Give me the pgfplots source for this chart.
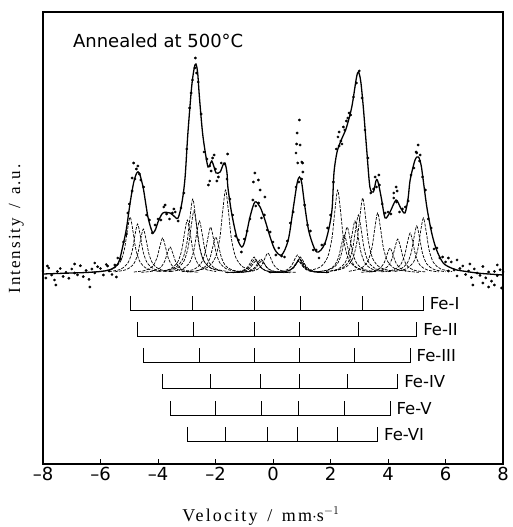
\documentclass[border=0pt]{standalone}
\usepackage{fontspec}
\setmainfont{Liberation Serif}
\newfontfamily\sansf{DejaVu Sans}
\newfontfamily\labf[LetterSpace=12]{Liberation Serif}
\usepackage{pgfplots}
\pgfplotsset{compat=1.18}

\pgfplotsset{
  sub/.style={black, line width=0.7pt, dash pattern=on 3pt off 1.3pt, smooth},
  stick/.style={black, line width=0.9pt, unbounded coords=jump},
}
\newcommand{\felab}[3]{\node[anchor=base west, inner sep=0pt, font=\sansf\fontsize{16.5}{18}\selectfont] at (axis cs:#1,#2) {#3};}

\begin{document}
\begin{tikzpicture}
\useasboundingbox (0pt,0pt) rectangle (512pt,527pt);
\begin{axis}[at={(43pt,63pt)}, anchor=south west, scale only axis,
  width=460pt, height=452pt,
  xmin=-8, xmax=8, ymin=-191, ymax=261,
  axis line style={line width=1.1pt},
  xtick={-8,-6,...,8}, xticklabels={–8,–6,–4,–2,0,2,4,6,8},
  ytick=\empty, tick align=inside, xtick pos=bottom,
  major tick length=5pt, tick style={line width=0.8pt, black},
  xticklabel style={font=\sansf\fontsize{18}{20}\selectfont},
  xlabel={\labf\fontsize{18}{20}\selectfont Velocity \,/\, mm$\cdot$s$^{-1}$},
  xlabel style={at={(axis description cs:0.474,0)}, anchor=base, yshift=-57pt},
  ylabel={\labf\fontsize{17}{19}\selectfont Intensity \,/\, a.u.},
  ylabel style={at={(axis description cs:-0.058,0.52)}, anchor=center},
]
% Fe-I
\addplot[sub] coordinates {(-5.97,1.6) (-5.57,4.1) (-5.32,10.7) (-5.17,23.5) (-5.07,41.6) (-4.97,56) (-4.87,41.6) (-4.77,23.5) (-4.62,10.7) (-4.37,4.1) (-3.97,1.6)};
\addplot[sub] coordinates {(-3.79,2.1) (-3.39,5.5) (-3.14,14.1) (-2.99,31) (-2.89,55) (-2.79,74) (-2.69,55) (-2.59,31) (-2.44,14.1) (-2.19,5.5) (-1.79,2.1)};
\addplot[sub] coordinates {(-1.66,0.4) (-1.26,1.2) (-1.01,3.1) (-0.86,6.7) (-0.76,11.9) (-0.66,16) (-0.56,11.9) (-0.46,6.7) (-0.31,3.1) (-0.06,1.2) (0.34,0.4)};
\addplot[sub] coordinates {(-0.05,0.4) (0.35,1.2) (0.6,3.1) (0.75,6.7) (0.85,11.9) (0.95,16) (1.05,11.9) (1.15,6.7) (1.3,3.1) (1.55,1.2) (1.95,0.4)};
\addplot[sub] coordinates {(2.12,2.1) (2.52,5.6) (2.77,14.3) (2.92,31.4) (3.02,55.7) (3.12,75) (3.22,55.7) (3.32,31.4) (3.47,14.3) (3.72,5.6) (4.12,2.1)};
\addplot[sub] coordinates {(4.23,1.5) (4.63,4.1) (4.88,10.5) (5.03,23) (5.13,40.9) (5.23,55) (5.33,40.9) (5.43,23) (5.58,10.5) (5.83,4.1) (6.23,1.5)};
% Fe-II
\addplot[sub] coordinates {(-5.71,1.4) (-5.31,3.6) (-5.06,9.4) (-4.91,20.5) (-4.81,36.4) (-4.71,49) (-4.61,36.4) (-4.51,20.5) (-4.36,9.4) (-4.11,3.6) (-3.71,1.4)};
\addplot[sub] coordinates {(-3.75,1.7) (-3.35,4.6) (-3.1,11.8) (-2.95,26) (-2.85,46.1) (-2.75,62) (-2.65,46.1) (-2.55,26) (-2.4,11.8) (-2.15,4.6) (-1.75,1.7)};
\addplot[sub] coordinates {(-1.63,0.4) (-1.23,1) (-0.98,2.7) (-0.83,5.9) (-0.73,10.4) (-0.63,14) (-0.53,10.4) (-0.43,5.9) (-0.28,2.7) (-0.03,1) (0.37,0.4)};
\addplot[sub] coordinates {(-0.08,0.4) (0.32,1) (0.57,2.7) (0.72,5.9) (0.82,10.4) (0.92,14) (1.02,10.4) (1.12,5.9) (1.27,2.7) (1.52,1) (1.92,0.4)};
\addplot[sub] coordinates {(1.97,1.6) (2.37,4.3) (2.62,11.1) (2.77,24.3) (2.87,43.1) (2.97,58) (3.07,43.1) (3.17,24.3) (3.32,11.1) (3.57,4.3) (3.97,1.6)};
\addplot[sub] coordinates {(4,1.3) (4.4,3.5) (4.65,9) (4.8,19.7) (4.9,34.9) (5,47) (5.1,34.9) (5.2,19.7) (5.35,9) (5.6,3.5) (6,1.3)};
% Fe-III
\addplot[sub] coordinates {(-5.51,1.2) (-5.11,3.3) (-4.86,8.4) (-4.71,18.4) (-4.61,32.7) (-4.51,44) (-4.41,32.7) (-4.31,18.4) (-4.16,8.4) (-3.91,3.3) (-3.51,1.2)};
\addplot[sub] coordinates {(-3.56,1.5) (-3.16,3.8) (-2.91,9.9) (-2.76,21.8) (-2.66,38.6) (-2.56,52) (-2.46,38.6) (-2.36,21.8) (-2.21,9.9) (-1.96,3.8) (-1.56,1.5)};
\addplot[sub] coordinates {(-1.6,0.3) (-1.2,0.9) (-0.95,2.3) (-0.8,5) (-0.7,8.9) (-0.6,12) (-0.5,8.9) (-0.4,5) (-0.25,2.3) (0,0.9) (0.4,0.3)};
\addplot[sub] coordinates {(-0.1,0.3) (0.3,0.9) (0.55,2.3) (0.7,5) (0.8,8.9) (0.9,12) (1,8.9) (1.1,5) (1.25,2.3) (1.5,0.9) (1.9,0.3)};
\addplot[sub] coordinates {(1.85,1.5) (2.25,3.8) (2.5,9.9) (2.65,21.8) (2.75,38.6) (2.85,52) (2.95,38.6) (3.05,21.8) (3.2,9.9) (3.45,3.8) (3.85,1.5)};
\addplot[sub] coordinates {(3.77,1.1) (4.17,3) (4.42,7.6) (4.57,16.8) (4.67,29.7) (4.77,40) (4.87,29.7) (4.97,16.8) (5.12,7.6) (5.37,3) (5.77,1.1)};
% Fe-IV
\addplot[sub] coordinates {(-4.84,1) (-4.44,2.6) (-4.19,6.7) (-4.04,14.7) (-3.94,26) (-3.84,35) (-3.74,26) (-3.64,14.7) (-3.49,6.7) (-3.24,2.6) (-2.84,1)};
\addplot[sub] coordinates {(-3.17,1.3) (-2.77,3.4) (-2.52,8.8) (-2.37,19.3) (-2.27,34.2) (-2.17,46) (-2.07,34.2) (-1.97,19.3) (-1.82,8.8) (-1.57,3.4) (-1.17,1.3)};
\addplot[sub] coordinates {(-1.42,0.4) (-1.02,1) (-0.77,2.7) (-0.62,5.9) (-0.52,10.4) (-0.42,14) (-0.32,10.4) (-0.22,5.9) (-0.07,2.7) (0.18,1) (0.58,0.4)};
\addplot[sub] coordinates {(-0.06,0.4) (0.34,1) (0.59,2.7) (0.74,5.9) (0.84,10.4) (0.94,14) (1.04,10.4) (1.14,5.9) (1.29,2.7) (1.54,1) (1.94,0.4)};
\addplot[sub] coordinates {(1.58,1.3) (1.98,3.4) (2.23,8.8) (2.38,19.3) (2.48,34.2) (2.58,46) (2.68,34.2) (2.78,19.3) (2.93,8.8) (3.18,3.4) (3.58,1.3)};
\addplot[sub] coordinates {(3.34,1) (3.74,2.5) (3.99,6.5) (4.14,14.2) (4.24,25.3) (4.34,34) (4.44,25.3) (4.54,14.2) (4.69,6.5) (4.94,2.5) (5.34,1)};
% Fe-V
\addplot[sub] coordinates {(-4.58,0.7) (-4.18,1.9) (-3.93,5) (-3.78,10.9) (-3.68,19.3) (-3.58,26) (-3.48,19.3) (-3.38,10.9) (-3.23,5) (-2.98,1.9) (-2.58,0.7)};
\addplot[sub] coordinates {(-2.99,1) (-2.59,2.7) (-2.34,6.9) (-2.19,15.1) (-2.09,26.7) (-1.99,36) (-1.89,26.7) (-1.79,15.1) (-1.64,6.9) (-1.39,2.7) (-0.99,1)};
\addplot[sub] coordinates {(-1.4,0.3) (-1,0.9) (-0.75,2.3) (-0.6,5) (-0.5,8.9) (-0.4,12) (-0.3,8.9) (-0.2,5) (-0.05,2.3) (0.2,0.9) (0.6,0.3)};
\addplot[sub] coordinates {(-0.12,0.3) (0.28,0.9) (0.53,2.3) (0.68,5) (0.78,8.9) (0.88,12) (0.98,8.9) (1.08,5) (1.23,2.3) (1.48,0.9) (1.88,0.3)};
\addplot[sub] coordinates {(1.48,1.1) (1.88,2.8) (2.13,7.3) (2.28,15.9) (2.38,28.2) (2.48,38) (2.58,28.2) (2.68,15.9) (2.83,7.3) (3.08,2.8) (3.48,1.1)};
\addplot[sub] coordinates {(3.07,0.7) (3.47,1.9) (3.72,4.8) (3.87,10.5) (3.97,18.6) (4.07,25) (4.17,18.6) (4.27,10.5) (4.42,4.8) (4.67,1.9) (5.07,0.7)};
% Fe-VI
\addplot[sub] coordinates {(-3.98,1.5) (-3.58,3.9) (-3.33,10.1) (-3.18,22.2) (-3.08,39.4) (-2.98,53) (-2.88,39.4) (-2.78,22.2) (-2.63,10.1) (-2.38,3.9) (-1.98,1.5)};
\addplot[sub] coordinates {(-2.65,2.3) (-2.25,6.1) (-2,15.9) (-1.85,34.8) (-1.75,61.7) (-1.65,83) (-1.55,61.7) (-1.45,34.8) (-1.3,15.9) (-1.05,6.1) (-0.65,2.3)};
\addplot[sub] coordinates {(-1.18,0.6) (-0.78,1.5) (-0.53,3.8) (-0.38,8.4) (-0.28,14.9) (-0.18,20) (-0.08,14.9) (0.02,8.4) (0.17,3.8) (0.42,1.5) (0.82,0.6)};
\addplot[sub] coordinates {(-0.15,0.5) (0.25,1.3) (0.5,3.4) (0.65,7.5) (0.75,13.4) (0.85,18) (0.95,13.4) (1.05,7.5) (1.2,3.4) (1.45,1.3) (1.85,0.5)};
\addplot[sub] coordinates {(1.25,2.3) (1.65,6.1) (1.9,15.9) (2.05,34.8) (2.15,61.7) (2.25,83) (2.35,61.7) (2.45,34.8) (2.6,15.9) (2.85,6.1) (3.25,2.3)};
\addplot[sub] coordinates {(2.64,1.7) (3.04,4.4) (3.29,11.5) (3.44,25.1) (3.54,44.6) (3.64,60) (3.74,44.6) (3.84,25.1) (3.99,11.5) (4.24,4.4) (4.64,1.7)};

% fitted envelope
\addplot[black, line width=1.3pt, smooth] coordinates {
(-8.0,-1) (-7.5,-0.5) (-7.0,0) (-6.5,0.5) (-6.0,1.5) (-5.7,3) (-5.5,6) (-5.35,12)
(-5.2,30) (-5.1,44) (-4.97,70) (-4.85,90) (-4.74,100) (-4.65,100) (-4.52,86) (-4.43,70)
(-4.35,56) (-4.25,45) (-4.17,40) (-4.08,44) (-4.0,51) (-3.83,60) (-3.58,60) (-3.41,56)
(-3.3,55) (-3.17,70) (-3.06,95) (-2.96,140) (-2.83,186) (-2.74,205) (-2.68,209) (-2.62,200)
(-2.56,176) (-2.45,140) (-2.33,116) (-2.26,106) (-2.2,108) (-2.13,112) (-2.05,106) (-1.98,100)
(-1.84,101) (-1.74,108) (-1.67,110) (-1.6,100) (-1.57,86) (-1.44,60) (-1.26,36) (-1.09,26)
(-0.97,33) (-0.8,56) (-0.63,71) (-0.45,66) (-0.28,53) (-0.1,36) (0.07,23) (0.3,18)
(0.53,33) (0.71,66) (0.84,90) (0.92,96) (1.0,90) (1.11,66) (1.26,40) (1.52,21)
(1.81,30) (2.04,60) (2.12,100) (2.22,120) (2.33,130) (2.45,138) (2.56,146) (2.74,166)
(2.9,195) (2.97,201) (3.05,192) (3.14,166) (3.26,123) (3.37,86) (3.49,81) (3.58,92)
(3.63,93) (3.7,85) (3.78,73) (3.9,55) (4.07,61) (4.28,73) (4.44,65) (4.59,60)
(4.7,75) (4.77,93) (4.94,113) (5.06,116) (5.15,108) (5.21,96) (5.35,66) (5.52,40)
(5.69,23) (5.92,10) (6.2,5) (6.39,3) (7.09,0) (7.5,-1) (8.0,-2)};

% measured points
\addplot[only marks, mark=*, mark size=1.2pt, black] coordinates {
(-8.0,2) (-7.9,-5) (-7.8,5) (-7.7,-2) (-7.6,-7) (-7.5,1.5) (-7.4,4.5) (-7.3,-3.4) (-7.2,0.7) (-7.1,-5.2)
(-7.0,4) (-6.9,0) (-6.8,-1.8) (-6.7,7.3) (-6.6,-3.6) (-6.5,2.5) (-6.4,-6.3) (-6.3,3.9) (-6.2,0.1) (-6.1,6.3)
(-6.0,4.5) (-5.9,-2) (-5.8,8.5) (-5.7,2) (-5.6,-1.5) (-5.5,8) (-5.4,15) (-5.3,14) (-5.2,31) (-5.1,39)
(-5.0,69) (-4.9,82) (-4.8,94) (-4.7,107) (-4.6,93) (-4.5,86) (-4.4,58) (-4.3,53) (-4.2,40) (-4.1,48)
(-4.0,54) (-3.9,53) (-3.8,66) (-3.7,59) (-3.6,54) (-3.5,60) (-3.4,61) (-3.3,52) (-3.2,65) (-3.1,80)
(-3.0,124) (-2.9,165) (-2.8,193) (-2.7,215) (-2.6,191) (-2.5,159) (-2.4,121) (-2.3,114) (-2.2,107) (-2.1,115)
(-2.0,104) (-1.9,96) (-1.8,110) (-1.7,109) (-1.6,94) (-1.5,74) (-1.4,58) (-1.3,37) (-1.2,33) (-1.1,21)
(-1.0,34) (-0.9,42) (-0.8,54) (-0.7,73) (-0.6,67) (-0.5,70) (-0.4,55) (-0.3,58) (-0.2,43) (-0.1,41)
(0.0,31) (0.1,18) (0.2,25) (0.3,17) (0.4,16) (0.5,32) (0.6,50) (0.7,61) (0.8,86) (0.9,91)
(1.0,94) (1.1,68) (1.2,48) (1.3,42) (1.4,23) (1.5,23) (1.6,15) (1.7,28) (1.8,29) (1.9,45)
(2.0,58) (2.1,91) (2.2,124) (2.3,127) (2.4,129) (2.5,143) (2.6,155) (2.7,158) (2.8,176) (2.9,190)
(3.0,202) (3.1,175) (3.2,143) (3.3,115) (3.4,80) (3.5,84) (3.6,86) (3.7,88) (3.8,69) (3.9,60)
(4.0,61) (4.1,59) (4.2,75) (4.3,71) (4.4,61) (4.5,64) (4.6,66) (4.7,72) (4.8,98) (4.9,105)
(5.0,120) (5.1,112) (5.2,96) (5.3,83) (5.4,54) (5.5,45) (5.6,24) (5.7,25) (5.8,15) (5.9,16)
(6.0,11) (6.1,2) (6.2,11) (6.3,3) (6.4,-3) (6.5,4.5) (6.6,7) (6.7,-1.5) (6.8,2) (6.9,-4.5)
(7.0,4) (7.1,0) (7.2,-2.3) (7.3,6.5) (7.4,-4.8) (7.5,1) (7.6,-8.2) (7.7,1.6) (7.8,-2.6) (7.9,3.2) (8.0,1)
(-7.85,7) (-7.55,-12) (-6.9,9) (-6.37,-14) (-6.2,10) (-5.75,7) (-5.45,-4) (-4.85,110) (-4.75,104) (-4.9,95)
(-4.65,99) (-5.05,60) (-3.75,68) (-3.45,64) (-2.72,205) (-2.66,200) (-2.85,180) (-2.05,118) (-2.15,102) (-1.95,92)
(-1.58,119) (-2.25,88) (-2.2,92) (-0.63,100) (-0.68,91) (-0.51,93) (-0.45,83) (-0.28,76) (0.92,153) (0.84,140)
(0.94,128) (0.82,129) (0.8,120) (1.0,111) (1.03,110) (0.86,110) (1.04,101) (2.26,136) (2.3,141) (2.36,132)
(2.45,146) (2.55,152) (2.65,160) (3.55,96) (3.68,98) (4.28,86) (4.32,82) (4.2,80) (5.05,128) (4.98,121)
(5.12,118) (6.4,13) (6.85,9) (6.1,15) (6.95,-12) (7.5,-14) (7.7,-12) (7.95,-15) (7.3,-10) (7.8,8)};

% line positions of the six sextets
\addplot[stick] coordinates {(-4.97,-23) (-4.97,-37) (5.23,-37) (5.23,-23) (0,nan) (-2.79,-37) (-2.79,-23) (0,nan) (-0.66,-37) (-0.66,-23) (0,nan) (0.95,-37) (0.95,-23) (0,nan) (3.12,-37) (3.12,-23)};
\addplot[stick] coordinates {(-4.71,-49) (-4.71,-63) (5.00,-63) (5.00,-49) (0,nan) (-2.75,-63) (-2.75,-49) (0,nan) (-0.63,-63) (-0.63,-49) (0,nan) (0.92,-63) (0.92,-49) (0,nan) (2.97,-63) (2.97,-49)};
\addplot[stick] coordinates {(-4.51,-75) (-4.51,-89) (4.77,-89) (4.77,-75) (0,nan) (-2.56,-89) (-2.56,-75) (0,nan) (-0.63,-89) (-0.63,-75) (0,nan) (0.92,-89) (0.92,-75) (0,nan) (2.85,-89) (2.85,-75)};
\addplot[stick] coordinates {(-3.84,-101) (-3.84,-115) (4.34,-115) (4.34,-101) (0,nan) (-2.17,-115) (-2.17,-101) (0,nan) (-0.42,-115) (-0.42,-101) (0,nan) (0.92,-115) (0.92,-101) (0,nan) (2.58,-115) (2.58,-101)};
\addplot[stick] coordinates {(-3.58,-128) (-3.58,-142) (4.07,-142) (4.07,-128) (0,nan) (-1.99,-142) (-1.99,-128) (0,nan) (-0.40,-142) (-0.40,-128) (0,nan) (0.88,-142) (0.88,-128) (0,nan) (2.48,-142) (2.48,-128)};
\addplot[stick] coordinates {(-2.98,-154) (-2.98,-168) (3.64,-168) (3.64,-154) (0,nan) (-1.65,-168) (-1.65,-154) (0,nan) (-0.18,-168) (-0.18,-154) (0,nan) (0.85,-168) (0.85,-154) (0,nan) (2.25,-168) (2.25,-154)};

\felab{5.45}{-37}{Fe-I}
\felab{5.22}{-63}{Fe-II}
\felab{4.99}{-89}{Fe-III}
\felab{4.56}{-115}{Fe-IV}
\felab{4.29}{-142}{Fe-V}
\felab{3.86}{-168}{Fe-VI}

\node[anchor=base west, inner sep=0pt, font=\sansf\fontsize{18}{20}\selectfont] at (axis cs:-6.96,225) {Annealed at 500°C};
\end{axis}
\end{tikzpicture}
\end{document}
